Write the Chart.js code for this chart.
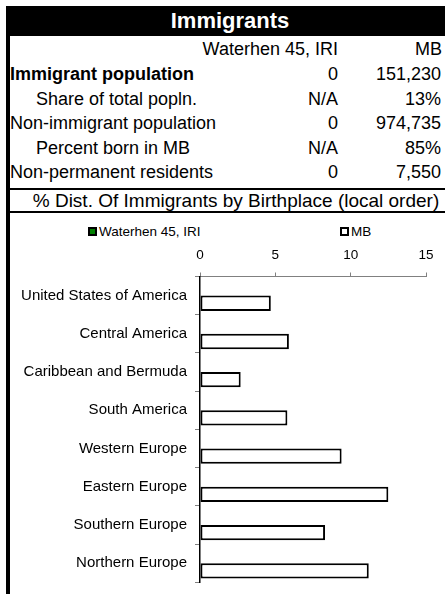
<!DOCTYPE html>
<html>
<head>
<meta charset="utf-8">
<script src="https://cdn.jsdelivr.net/npm/chart.js@4/dist/chart.umd.min.js"></script>
<style>
  html, body {
    margin: 0;
    padding: 0;
    background: #ffffff;
    font-family: "Liberation Sans", Arial, sans-serif;
    color: #000000;
  }
  #page {
    position: relative;
    width: 445px;
    height: 594px;
    overflow: hidden;
  }
  .abs {
    position: absolute;
    white-space: nowrap;
  }
  #leftBorder {
    left: 6px;
    top: 6px;
    width: 3.5px;
    height: 588px;
    background: #000;
  }
  #titleBar {
    left: 6px;
    top: 6px;
    width: 439px;
    height: 29.5px;
    background: #000;
  }
  #title {
    left: 130px;
    width: 200px;
    top: 6px;
    height: 29.5px;
    line-height: 29.5px;
    text-align: center;
    color: #fff;
    font-weight: bold;
    font-size: 22px;
  }
  .row {
    font-size: 18px;
    line-height: 20px;
    height: 20px;
  }
  .hline {
    left: 6px;
    width: 439px;
    height: 2px;
    background: #000;
  }
  #subtitle {
    left: 0px;
    width: 472px;
    top: 191px;
    height: 20px;
    line-height: 20px;
    font-size: 19px;
    text-align: center;
  }
  .legendItem {
    top: 224px;
    height: 16px;
    line-height: 16px;
    font-size: 13.5px;
  }
  .legendBox {
    display: inline-block;
    width: 5px;
    height: 5px;
    border: 2px solid #000;
    vertical-align: middle;
    margin-right: 2px;
    position: relative;
    top: -1px;
  }
  #chartWrap {
    left: 8px;
    top: 213px;
    width: 437px;
    height: 381px;
  }
</style>
</head>
<body>
<div id="page">
  <div class="abs" id="titleBar"></div>
  <div class="abs" id="leftBorder"></div>
  <div class="abs" id="title">Immigrants</div>
  <div id="table"></div>
  <div class="abs hline" style="top:188px"></div>
  <div class="abs" id="subtitle">% Dist. Of Immigrants by Birthplace (local order)</div>
  <div class="abs hline" style="top:211px"></div>
  <div id="legend"></div>
  <div class="abs" id="chartWrap"><canvas id="distChart"></canvas></div>
</div>
<script>
// Summary table
const seriesNames = ["Waterhen 45, IRI", "MB"];
const seriesColors = ["#008000", "#ffffff"];
const statLabels = [
  "Immigrant population",
  "Share of total popln.",
  "Non-immigrant population",
  "Percent born in MB",
  "Non-permanent residents",
];
const waterhenStats = ["0", "N/A", "0", "N/A", "0"];
const mbStats = ["151,230", "13%", "974,735", "85%", "7,550"];

// Bar chart
const categories = [
  "United States of America",
  "Central America",
  "Caribbean and Bermuda",
  "South America",
  "Western Europe",
  "Eastern Europe",
  "Southern Europe",
  "Northern Europe",
];
const waterhenPct = [0, 0, 0, 0, 0, 0, 0, 0];
const mbPct = [4.7, 5.9, 2.7, 5.8, 9.4, 12.5, 8.3, 11.2];
const xTicks = [0, 5, 10, 15];

function addText(parent, text, style, cls) {
  const el = document.createElement("div");
  el.className = "abs " + (cls || "");
  el.textContent = text;
  Object.assign(el.style, style);
  parent.appendChild(el);
  return el;
}

document.addEventListener("DOMContentLoaded", function () {
  const table = document.getElementById("table");
  // header row
  addText(table, seriesNames[0], { top: "39px", right: "107px" }, "row");
  addText(table, seriesNames[1], { top: "39px", right: "3px" }, "row");

  const rowTops = [64, 88.5, 113, 137.5, 162];
  const indented = [false, true, false, true, false];
  statLabels.forEach(function (label, i) {
    const el = addText(
      table,
      label,
      { top: rowTops[i] + "px", left: indented[i] ? "36px" : "10px" },
      "row"
    );
    if (i === 0) el.style.fontWeight = "bold";
    addText(table, waterhenStats[i], { top: rowTops[i] + "px", right: "107px" }, "row");
    addText(table, mbStats[i], { top: rowTops[i] + "px", right: "4px" }, "row");
  });

  // legend
  const legend = document.getElementById("legend");
  const legendLeft = [88, 340];
  seriesNames.forEach(function (name, i) {
    const item = document.createElement("div");
    item.className = "abs legendItem";
    item.style.left = legendLeft[i] + "px";
    const box = document.createElement("span");
    box.className = "legendBox";
    box.style.background = seriesColors[i];
    item.appendChild(box);
    item.appendChild(document.createTextNode(name));
    legend.appendChild(item);
  });

  const ctx = document.getElementById("distChart")?.getContext("2d");
  if (ctx) {
    new Chart(ctx, {
      type: "bar",
      data: {
        labels: categories,
        datasets: [
          {
            label: seriesNames[0],
            data: waterhenPct,
            backgroundColor: seriesColors[0],
            borderColor: "#000000",
            borderWidth: 2,
            borderSkipped: false,
          },
          {
            label: seriesNames[1],
            data: mbPct,
            backgroundColor: seriesColors[1],
            borderColor: "#000000",
            borderWidth: 2,
            borderSkipped: false,
          },
        ],
      },
      options: {
        indexAxis: "y",
        responsive: true,
        maintainAspectRatio: false,
        animation: false,
        datasets: {
          bar: {
            categoryPercentage: 0.8,
            barPercentage: 1.0,
          },
        },
        layout: {
          padding: { top: 33.5, right: 19, bottom: 11.7, left: 0 },
        },
        plugins: {
          legend: { display: false },
          tooltip: { enabled: false },
        },
        scales: {
          x: {
            position: "top",
            min: 0,
            max: 15,
            afterBuildTicks: function (scale) {
              scale.ticks = xTicks.map(function (v) {
                return { value: v };
              });
            },
            afterFit: function (scale) {
              scale.height = 30;
            },
            grid: {
              drawOnChartArea: false,
              drawTicks: true,
              tickLength: 4,
              color: "#808080",
            },
            border: {
              color: "#808080",
              width: 1,
            },
            ticks: {
              color: "#000000",
              padding: 9,
              font: { family: "'Liberation Sans', Arial", size: 13.5 },
            },
          },
          y: {
            afterFit: function (scale) {
              scale.width = 192;
              scale.paddingTop = 0;
              scale.paddingBottom = 0;
            },
            grid: {
              drawOnChartArea: false,
              drawTicks: true,
              tickLength: 5,
              color: "#808080",
            },
            border: {
              color: "#000000",
              width: 1.5,
            },
            ticks: {
              color: "#000000",
              padding: 8,
              autoSkip: false,
              font: { family: "'Liberation Sans', Arial", size: 15 },
            },
          },
        },
      },
    });
  }
});
</script>
</body>
</html>
